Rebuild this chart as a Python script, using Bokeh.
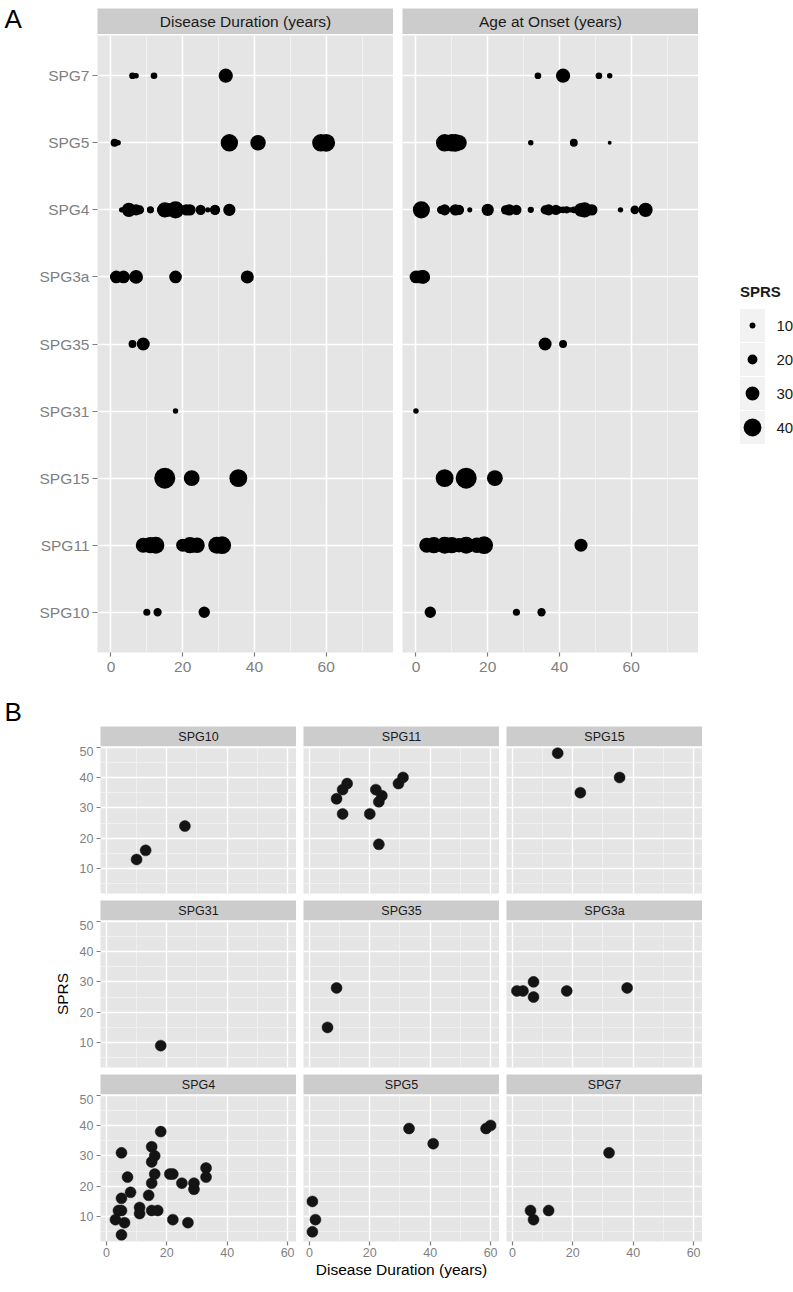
from bokeh.plotting import figure
from bokeh.models import (ColumnDataSource, CDSView, GroupFilter, FixedTicker,
                          FactorRange, Range1d, LinearInterpolator, Spacer)
from bokeh.layouts import row, column
from bokeh.embed import file_html
from bokeh.resources import INLINE
from bokeh.core.properties import value

FONT = "Liberation Sans"
PANEL_BG = "#e5e5e5"
STRIP_BG = "#cccccc"
MINOR = "#f2f2f2"
AXIS_GREY = "#7f7f7f"
TEXT_DARK = "#1a1a1a"

# ---------------- data ----------------
genes = ["SPG10", "SPG11", "SPG15", "SPG31", "SPG35", "SPG3a", "SPG4", "SPG5", "SPG7"]
gene_counts = [3, 11, 3, 1, 2, 6, 29, 7, 4]

duration = [
    10, 13, 26,                                              # SPG10
    9, 11, 12.5, 11, 20, 22, 24, 23, 23, 29.5, 31,           # SPG11
    15, 22.5, 35.5,                                          # SPG15
    18,                                                      # SPG31
    6, 9,                                                    # SPG35
    1.5, 3.5, 7, 7, 18, 38,                                  # SPG3a
    3, 4, 5, 5, 5, 5, 6, 7, 8, 11, 11, 14, 15, 16, 15, 15,   # SPG4
    16, 15, 17, 18, 21, 22, 22, 25, 27, 29, 29, 33, 33,
    1, 2, 1, 33, 41, 58.5, 60,                               # SPG5
    6, 7, 12, 32,                                            # SPG7
]
sprs = [
    13, 16, 24,
    33, 36, 38, 28, 28, 36, 34, 32, 18, 38, 40,
    48, 35, 40,
    9,
    15, 28,
    27, 27, 30, 25, 27, 28,
    9, 12, 12, 16, 31, 4, 8, 23, 18, 13, 11, 17, 33, 30, 28, 21,
    24, 12, 12, 38, 24, 24, 9, 21, 8, 21, 19, 26, 23,
    5, 9, 15, 39, 34, 39, 40,
    12, 9, 12, 31,
]
onset = [
    28, 35, 4,
    3, 5, 8, 46, 15, 10, 17, 12, 4, 14, 19,
    14, 22, 8,
    0,
    41, 36,
    0, 1, 2, 0.5, 1.5, 2,
    57, 41, 44, 7, 64, 44, 15, 8, 36, 42, 32, 61, 47, 46, 2, 28,
    49, 40, 45, 1.5, 11, 26, 43, 39, 48, 12, 25, 20, 37,
    54, 32, 44, 8, 12, 10, 11,
    51, 54, 34, 41,
]

facet_a_labels = ["Disease Duration (years)", "Age at Onset (years)"]
facet_a_fields = ["duration", "onset"]
panel_labels = ["A", "B"]
a_x_ticks = [0, 20, 40, 60]
a_x_minor = [10, 30, 50, 70]
b_x_ticks = [0, 20, 40, 60]
b_x_minor = [10, 30, 50]
b_y_ticks = [10, 20, 30, 40, 50]
b_y_minor = [5, 15, 25, 35, 45]
legend_title = "SPRS"
legend_values = [10, 20, 30, 40]
b_x_title = "Disease Duration (years)"
b_y_title = "SPRS"

gene_col = [g for g, n in zip(genes, gene_counts) for _ in range(n)]
src = ColumnDataSource(dict(gene=gene_col, duration=duration, sprs=sprs, onset=onset))
size_map = LinearInterpolator(x=[min(sprs), max(sprs)], y=[3.5, 21.0])


def blank(w, h, xr, yr, left=0, top=0, bottom=0, bg="white", align=True):
    p = figure(width=w, height=h, x_range=xr, y_range=yr, toolbar_location=None,
               output_backend="svg", min_border_left=left, min_border_right=0,
               min_border_top=top, min_border_bottom=bottom, title=None,
               x_axis_location=None, y_axis_location=None,
               background_fill_color=bg, border_fill_color="white")
    if not align:
        p.frame_align = False
    p.grid.visible = False
    p.outline_line_color = None
    return p


def strip(label, w, h, left, top, size):
    p = blank(w, h, Range1d(0, 1), Range1d(0, 1), left=left, top=top, bg=STRIP_BG)
    p.text(x=[0.5], y=[0.5], text=[label], text_align="center", text_baseline="middle",
           text_font=value(FONT), text_font_size=size, text_color=TEXT_DARK)
    return p


def panel_tag(label, w, h, x, y_from_top, size):
    p = blank(w, h, Range1d(0, w), Range1d(0, h), align=False)
    p.text(x=[x], y=[h - y_from_top], text=[label], text_align="left",
           text_baseline="middle", text_font=value(FONT), text_font_size=size,
           text_color="black")
    return p


def style_axis(ax, size):
    ax.axis_line_color = None
    ax.major_tick_line_color = AXIS_GREY
    ax.major_tick_line_width = 1.2
    ax.major_tick_out = 4
    ax.major_tick_in = 0
    ax.minor_tick_line_color = None
    ax.major_label_text_color = AXIS_GREY
    ax.major_label_text_font = FONT
    ax.major_label_text_font_size = size


# ---------------- panel A ----------------
A_FW, A_FH = 296, 617
A_TOP_PAGE = 35        # page y of the facet frames' top edge
A_BOTTOM = 32
a_xr = Range1d(-3.75, 78.75)
a_yr = FactorRange(factors=genes, range_padding=0.1, range_padding_units="absolute")

a_label = panel_tag(panel_labels[0], 97, 34, 4, 18, "26px")

strip_a1 = strip(facet_a_labels[0], A_FW, 34, 0, 8, "15.5px")
strip_a2 = strip(facet_a_labels[1], 9 + A_FW, 34, 9, 8, "15.5px")

fa = []
for i, fld in enumerate(facet_a_fields):
    left = 97 if i == 0 else 9
    p = figure(width=left + A_FW, height=1 + A_FH + A_BOTTOM, x_range=a_xr, y_range=a_yr,
               toolbar_location=None, output_backend="svg", title=None,
               min_border_left=left, min_border_right=0, min_border_top=1,
               min_border_bottom=A_BOTTOM, background_fill_color=PANEL_BG)
    p.outline_line_color = None
    p.scatter(x=fld, y="gene", source=src, size={"field": "sprs", "transform": size_map},
              fill_color="black", line_color=None)
    p.xaxis.ticker = FixedTicker(ticks=a_x_ticks, minor_ticks=a_x_minor)
    p.xgrid.grid_line_color = "white"
    p.xgrid.grid_line_width = 1.6
    p.xgrid.minor_grid_line_color = MINOR
    p.xgrid.minor_grid_line_width = 0.9
    p.ygrid.grid_line_color = "white"
    p.ygrid.grid_line_width = 1.6
    style_axis(p.xaxis[0], "15.5px")
    p.xaxis.major_label_standoff = 5
    if i == 0:
        style_axis(p.yaxis[0], "15.5px")
        p.yaxis.major_tick_out = 5
        p.yaxis.major_label_standoff = 3
    else:
        p.yaxis.visible = False
    fa.append(p)

# legend (drawn from legend_values through the same size transform);
# its frame matches the facet frames: page y 35 .. 652, keys at 325 + 34*i
leg_src = ColumnDataSource(dict(idx=list(range(len(legend_values))), val=legend_values,
                                lab=[str(v) for v in legend_values],
                                kx=[752] * len(legend_values),
                                lx=[776] * len(legend_values)))
leg = blank(95, 1 + A_FH + A_BOTTOM, Range1d(698, 793),
            Range1d((A_TOP_PAGE + A_FH - 325) / 34, (A_TOP_PAGE - 325) / 34),
            top=1, bottom=A_BOTTOM)
leg.rect(x="kx", y="idx", width=25, height=33, width_units="screen", height_units="screen",
         source=leg_src, fill_color=MINOR, line_color=None)
leg.scatter(x="kx", y="idx", size={"field": "val", "transform": size_map}, source=leg_src,
            fill_color="black", line_color=None)
leg.text(x="lx", y="idx", text="lab", source=leg_src, text_baseline="middle",
         text_align="left", text_font=value(FONT), text_font_size="15px", text_color=TEXT_DARK)
leg.text(x=[739.5], y=[-1], text=[legend_title], text_baseline="middle", text_align="left",
         text_font=value(FONT), text_font_size="15px", text_font_style="bold",
         text_color=TEXT_DARK)

# ---------------- panel B ----------------
B_FW, B_FH = 196, 147
b_xr = Range1d(-1.95, 62.95)
b_yr = Range1d(1.8, 50.2)

# tag row spans page y 684..726
b_label = panel_tag(panel_labels[1], 793, 42, 4, 27, "26px")

b_rows = []
for r in range(3):
    strips = [Spacer(width=100, height=20)]
    panels = []
    for c in range(3):
        g = genes[r * 3 + c]
        left = 100 if c == 0 else 7
        bottom = 40 if r == 2 else 7
        sl = 0 if c == 0 else 7
        strips.append(strip(g, sl + B_FW, 20, sl, 0, "12.5px"))
        p = figure(width=left + B_FW, height=B_FH + bottom, x_range=b_xr, y_range=b_yr,
                   toolbar_location=None, output_backend="svg", title=None,
                   min_border_left=left, min_border_right=0, min_border_top=0,
                   min_border_bottom=bottom, background_fill_color=PANEL_BG)
        p.outline_line_color = None
        view = CDSView(filter=GroupFilter(column_name="gene", group=g))
        p.scatter(x="duration", y="sprs", source=src, view=view, size=11,
                  fill_color="#141414", line_color="#141414", line_width=0.5)
        p.xaxis.ticker = FixedTicker(ticks=b_x_ticks, minor_ticks=b_x_minor)
        p.yaxis.ticker = FixedTicker(ticks=b_y_ticks, minor_ticks=b_y_minor)
        for gr in (p.xgrid, p.ygrid):
            gr.grid_line_color = "white"
            gr.grid_line_width = 1.4
            gr.minor_grid_line_color = MINOR
            gr.minor_grid_line_width = 0.8
        if r == 2:
            style_axis(p.xaxis[0], "12.5px")
            p.xaxis.major_label_standoff = 2
            if c == 1:
                p.xaxis.axis_label = b_x_title
                p.xaxis.axis_label_text_font = FONT
                p.xaxis.axis_label_text_font_size = "15.5px"
                p.xaxis.axis_label_text_font_style = "normal"
                p.xaxis.axis_label_text_color = "black"
                p.xaxis.axis_label_standoff = 1
        else:
            p.xaxis.visible = False
        if c == 0:
            style_axis(p.yaxis[0], "12.5px")
            p.yaxis.major_label_standoff = 3
            if r == 1:
                p.yaxis.axis_label = b_y_title
                p.yaxis.axis_label_text_font = FONT
                p.yaxis.axis_label_text_font_size = "15.5px"
                p.yaxis.axis_label_text_font_style = "normal"
                p.yaxis.axis_label_text_color = "black"
                p.yaxis.axis_label_standoff = 6
        else:
            p.yaxis.visible = False
        panels.append(p)
    b_rows.append(row(*strips))
    b_rows.append(row(*panels))

layout = column(
    row(a_label, strip_a1, strip_a2),
    row(fa[0], fa[1], leg),
    b_label,
    *b_rows,
)

open("out.html", "w").write(file_html(layout, INLINE))
